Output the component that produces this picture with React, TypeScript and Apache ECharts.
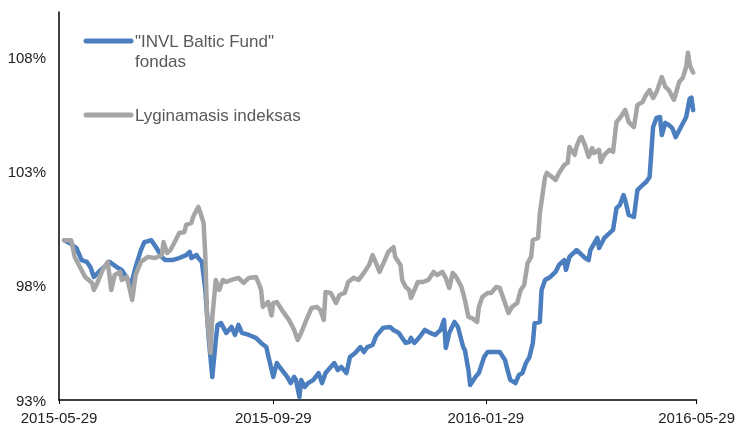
import React, { useEffect, useRef } from 'react';
import * as echarts from 'echarts';

// ---- data ----
const startDate = '2015-05-29';
const tickLabels = ['2015-05-29', '2015-09-29', '2016-01-29', '2016-05-29'];
const yTicks = [93, 98, 103, 108];
const seriesNames = ['"INVL Baltic Fund"\nfondas', 'Lyginamasis indeksas'];

// day offsets from startDate and values (%) for the fund
const fundDays = [
  3, 6, 10, 13, 16, 18, 20, 24, 26, 29, 34, 36, 39, 41, 44, 47, 49, 53, 56, 59,
  61, 65, 69, 73, 75, 76, 79, 80, 82, 84, 86, 88, 90, 91, 93, 96, 99, 101, 103, 105,
  109, 113, 116, 119, 120, 123, 125, 128, 131, 133, 135, 136, 138, 139, 141, 143, 146, 149, 151, 153,
  156, 158, 160, 162, 165, 167, 170, 173, 175, 177, 180, 182, 186, 190, 192, 195, 197, 199, 201, 202,
  204, 207, 210, 213, 216, 219, 221, 222, 224, 227, 229, 232, 233, 235, 236, 239, 241, 244, 246, 250,
  253, 256, 257, 259, 262, 264, 266, 268, 270, 272, 273, 276, 277, 279, 282, 285, 287, 290, 291, 293,
  297, 299, 302, 304, 305, 309, 310, 313, 318, 320, 322, 324, 325, 327, 330, 332, 335, 337, 339, 341,
  343, 345, 346, 348, 350, 352, 354, 357, 360, 361, 362, 363, 364,
];
const fundValues = [
  100.0, 99.88, 99.66, 99.13, 99.05, 98.83, 98.39, 98.7, 98.83, 99.05, 98.78, 98.7, 98.35, 97.95, 98.83, 99.57, 99.92, 100.0, 99.66, 99.27,
  99.13, 99.13, 99.22, 99.35, 99.49, 99.22, 99.35, 99.22, 99.05, 97.82, 95.63, 94.01, 95.63, 96.29, 96.37, 95.94, 96.2, 95.85, 96.29, 95.94,
  95.85, 95.72, 95.5, 95.32, 94.97, 94.01, 94.62, 94.31, 94.01, 93.74, 94.01, 93.88, 93.13, 93.88, 93.57, 93.74, 93.88, 94.18, 93.74, 94.18,
  94.45, 94.62, 94.31, 94.45, 94.18, 94.88, 95.06, 95.32, 95.1, 95.32, 95.41, 95.8, 96.16, 96.2, 96.07, 95.94, 95.72, 95.5, 95.54, 95.72,
  95.5, 95.76, 96.07, 95.94, 95.85, 96.07, 96.51, 95.28, 95.94, 96.42, 96.2, 95.32, 95.19, 94.31, 93.66, 94.01, 94.18, 94.88, 95.1, 95.1,
  95.1, 94.75, 94.45, 93.88, 93.74, 94.1, 94.18, 94.62, 94.88, 95.5, 96.37, 96.42, 97.82, 98.26, 98.39, 98.61, 98.92, 99.13, 98.7, 99.27,
  99.57, 99.44, 99.22, 99.13, 99.57, 100.1, 99.66, 100.1, 100.45, 101.41, 101.55, 101.98, 101.76, 101.11, 101.02, 102.2, 102.42, 102.55, 102.77, 104.96,
  105.36, 105.4, 104.61, 105.14, 105.05, 104.92, 104.52, 104.96, 105.4, 105.8, 106.2, 106.25, 105.7,
];

// day offsets from startDate and values (%) for the benchmark index
const indexDays = [
  3, 7, 9, 15, 19, 20, 22, 25, 28, 30, 32, 35, 36, 39, 42, 44, 47, 51, 55, 59,
  60, 62, 64, 67, 69, 72, 73, 76, 77, 79, 80, 81, 83, 84, 85, 87, 88, 90, 92, 94,
  96, 99, 103, 106, 109, 113, 115, 116, 117, 120, 122, 123, 125, 128, 132, 135, 137, 139, 142, 145,
  148, 150, 152, 153, 156, 159, 161, 164, 166, 169, 172, 175, 178, 180, 182, 184, 187, 189, 192, 193,
  196, 197, 199, 201, 202, 204, 206, 209, 212, 215, 217, 220, 222, 224, 226, 228, 231, 233, 235, 237,
  240, 241, 243, 246, 248, 251, 253, 256, 258, 260, 263, 265, 267, 269, 271, 272, 275, 276, 279, 280,
  283, 285, 287, 290, 292, 293, 296, 297, 299, 300, 302, 304, 306, 307, 310, 311, 313, 316, 318, 320,
  322, 325, 327, 330, 332, 335, 337, 339, 341, 343, 346, 348, 350, 353, 356, 358, 360, 361, 362, 363,
  364,
];
const indexValues = [
  100.0, 100.0, 99.27, 98.39, 98.13, 97.82, 98.13, 98.7, 99.05, 97.82, 98.48, 98.61, 98.26, 98.39, 97.38, 98.48, 99.05, 99.27, 99.22, 99.35,
  99.92, 99.44, 99.57, 100.01, 100.32, 100.36, 100.67, 100.76, 101.02, 101.33, 101.46, 101.24, 100.76, 99.27, 96.64, 95.06, 96.64, 98.26, 97.82, 98.26,
  98.17, 98.26, 98.35, 98.13, 98.35, 98.39, 98.04, 97.82, 97.08, 97.3, 96.7, 97.25, 97.29, 96.94, 96.51, 96.07, 95.63, 95.94, 96.51, 97.03,
  97.08, 96.94, 96.51, 97.73, 97.69, 97.25, 97.6, 97.69, 98.17, 98.35, 98.26, 98.57, 98.92, 99.35, 99.0, 98.61, 99.13, 99.49, 99.7, 99.27,
  98.92, 98.26, 97.95, 97.82, 97.47, 97.82, 98.17, 98.17, 98.26, 98.61, 98.48, 98.61, 98.35, 97.91, 98.57, 98.39, 97.95, 97.38, 96.64, 96.59,
  96.42, 97.08, 97.51, 97.69, 97.69, 97.95, 97.91, 97.25, 96.81, 97.08, 97.25, 97.82, 98.04, 99.0, 99.27, 100.01, 100.1, 101.19, 102.77, 102.95,
  102.77, 102.64, 102.95, 103.3, 103.39, 104.09, 103.74, 104.09, 104.48, 104.52, 104.15, 103.65, 104.04, 103.82, 103.96, 103.43, 103.74, 103.96, 103.87, 105.18,
  105.36, 105.71, 105.18, 104.96, 105.93, 106.06, 106.37, 106.58, 106.23, 106.5, 107.15, 106.72, 106.58, 106.15, 106.94, 107.11, 107.59, 108.21, 107.7, 107.5,
  107.35,
];

const DAY = 86400000;
const FONT = '"Liberation Sans", Arial, Helvetica, sans-serif';
const BLUE = '#4A7EBF';
const GREY = '#A5A5A5';

export default function App() {
  const ref = useRef<HTMLDivElement>(null);

  useEffect(() => {
    if (!ref.current) return;
    const chart = echarts.init(ref.current, undefined, { renderer: 'svg' });
    const t0 = Date.parse(startDate);
    // positions of the date ticks, in days from startDate
    const tickDays = tickLabels.map((s) => Math.round((Date.parse(s) - t0) / DAY));
    const labelFor = (v: number) => {
      const i = tickDays.findIndex((t) => Math.abs(t - v) < 0.5);
      return i >= 0 ? tickLabels[i] : '';
    };
    const fundData = fundDays.map((d, i) => [d, fundValues[i]]);
    const indexData = indexDays.map((d, i) => [d, indexValues[i]]);

    chart.setOption({
      animation: false,
      grid: { left: 59, right: 38, top: 12, bottom: 28 },
      xAxis: {
        type: 'value',
        min: tickDays[0],
        max: tickDays[tickDays.length - 1],
        axisLine: { show: true, lineStyle: { color: '#000', width: 1.5 } },
        axisTick: { show: true, length: 4, customValues: tickDays, lineStyle: { color: '#000', width: 1 } },
        axisLabel: {
          customValues: tickDays,
          formatter: (v: number) => labelFor(v),
          fontSize: 15,
          fontFamily: FONT,
          color: '#222',
          margin: 10,
        },
        splitLine: { show: false },
      },
      yAxis: {
        type: 'value',
        min: 93,
        max: 110,
        axisLine: { show: true, lineStyle: { color: '#000', width: 1.5 } },
        axisTick: { show: false },
        splitLine: { show: false },
        axisLabel: {
          customValues: yTicks,
          formatter: (v: number) => `${v}%`,
          fontSize: 15,
          fontFamily: FONT,
          color: '#222',
          margin: 13,
        },
      },
      series: [
        {
          name: seriesNames[0],
          type: 'line',
          data: fundData,
          showSymbol: false,
          lineStyle: { color: BLUE, width: 4.5, cap: 'round', join: 'round' },
          itemStyle: { color: BLUE },
          z: 2,
        },
        {
          name: seriesNames[1],
          type: 'line',
          data: indexData,
          showSymbol: false,
          lineStyle: { color: GREY, width: 4.5, cap: 'round', join: 'round' },
          itemStyle: { color: GREY },
          z: 3,
        },
      ],
      graphic: [
        {
          type: 'line',
          shape: { x1: 86, y1: 41, x2: 131, y2: 41 },
          style: { stroke: BLUE, lineWidth: 5, lineCap: 'round' },
        },
        {
          type: 'text',
          x: 135,
          y: 31,
          style: {
            text: seriesNames[0],
            fontSize: 17,
            lineHeight: 20,
            fontFamily: FONT,
            fill: '#595959',
            verticalAlign: 'top',
          },
        },
        {
          type: 'line',
          shape: { x1: 86, y1: 115, x2: 131, y2: 115 },
          style: { stroke: GREY, lineWidth: 5, lineCap: 'round' },
        },
        {
          type: 'text',
          x: 135,
          y: 115,
          style: {
            text: seriesNames[1],
            fontSize: 17,
            fontFamily: FONT,
            fill: '#595959',
            verticalAlign: 'middle',
          },
        },
      ],
    });

    return () => chart.dispose();
  }, []);

  return (
    <div
      ref={ref}
      style={{ position: 'fixed', left: 0, top: 0, width: 738, height: 428 }}
    />
  );
}
